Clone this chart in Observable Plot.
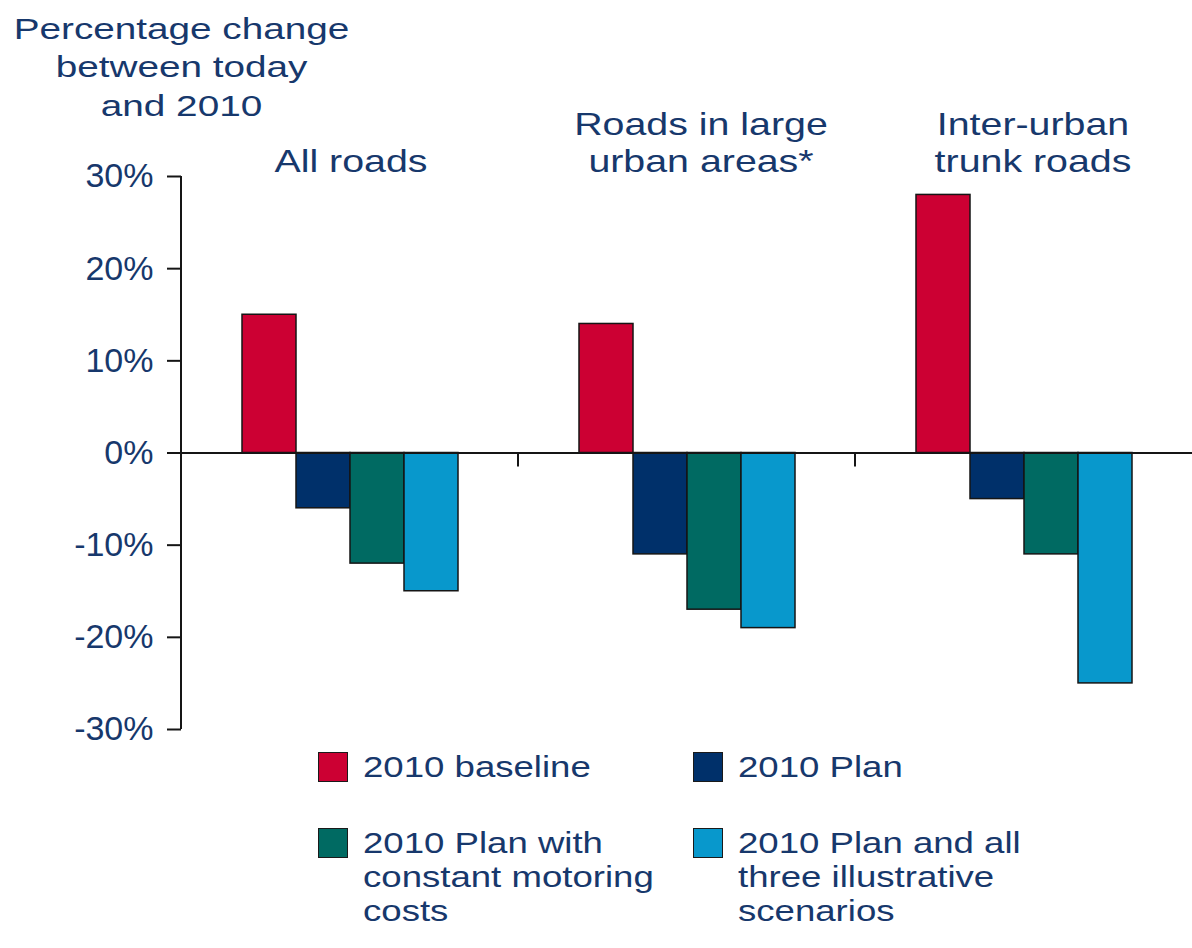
<!DOCTYPE html>
<html>
<head>
<meta charset="utf-8">
<script src="https://cdn.jsdelivr.net/npm/d3@7"></script>
<script src="https://cdn.jsdelivr.net/npm/@observablehq/plot@0.6"></script>
<style>
  html, body { margin: 0; padding: 0; background: #fff; overflow: hidden; }
  #chart { position: relative; width: 1192px; height: 948px; font-family: "Liberation Sans", Arial, sans-serif; color: #17386c; }
  .legend { display: grid; grid-template-columns: 375px 420px; row-gap: 42px; margin-left: 318px; margin-top: 5px; }
  .item { display: flex; align-items: flex-start; }
  .sw { width: 28px; height: 28px; border: 1px solid #1a1a1a; margin-top: 2px; flex: none; }
  .lbl { margin-left: 15px; font-size: 29.5px; line-height: 34px; white-space: pre; display: inline-block; transform: scaleX(1.24); transform-origin: 0 0; }
</style>
</head>
<body>
<div id="chart"></div>
<script>
// ---- data ----
const groups = ["All roads", "Roads in large\nurban areas*", "Inter-urban\ntrunk roads"];
const series = [
  "2010 baseline",
  "2010 Plan",
  "2010 Plan with\nconstant motoring\ncosts",
  "2010 Plan and all\nthree illustrative\nscenarios"
];
const colors = ["#cc0033", "#00306a", "#006a62", "#0898cc"];
const baseline = [15, 14, 28];
const plan = [-6, -11, -5];
const planConstantCosts = [-12, -17, -11];
const planAllScenarios = [-15, -19, -25];
const yTicks = [-30, -20, -10, 0, 10, 20, 30];
const title = "Percentage change\nbetween today\nand 2010";

const seriesValues = [baseline, plan, planConstantCosts, planAllScenarios];
const data = groups.flatMap((g, i) => series.map((s, j) => ({group: g, series: s, value: seriesValues[j][i]})));

const textColor = "#17386c";
const labelShift = [1, 14, 9];

const chart = Plot.plot({
  width: 1192,
  height: 745,
  marginTop: 176,
  marginBottom: 16,
  marginLeft: 180,
  marginRight: 0,
  style: {fontFamily: "'Liberation Sans', Arial, sans-serif", background: "#fff", color: textColor, overflow: "visible"},
  fx: {domain: groups, padding: 0, axis: null},
  x: {domain: series, paddingInner: 0, paddingOuter: 1.07, axis: null},
  y: {domain: [-30, 30], axis: null},
  color: {domain: series, range: colors},
  marks: [
    Plot.barY(data, {fx: "group", x: "series", y: "value", fill: "series", stroke: "#151515", strokeWidth: 1.5}),
    Plot.ruleY([0], {stroke: "#151515", strokeWidth: 2}),
    Plot.axisY({
      ticks: yTicks,
      tickFormat: d => `${d}%`,
      tickSize: 14,
      tickPadding: 14,
      fontSize: 34,
      stroke: "#151515",
      strokeWidth: 2,
      fill: textColor,
      label: null
    }),
    Plot.text([title], {
      fx: () => groups[0],
      text: d => d,
      frameAnchor: "top-left",
      textAnchor: "middle",
      lineAnchor: "bottom",
      fontSize: 30,
      lineHeight: 1.28,
      dy: -61,
      fill: textColor
    }),
    ...groups.map((g, i) => Plot.text([g], {
      fx: d => d,
      text: d => d,
      frameAnchor: "top",
      textAnchor: "middle",
      lineAnchor: "bottom",
      fontSize: 30.5,
      lineHeight: 1.213,
      dy: -5,
      dx: labelShift[i],
      fill: textColor
    }))
  ]
});

const root = document.getElementById("chart");
root.appendChild(chart);

// axis line and group separators from the library's scales
const fx = chart.scale("fx");
const ys = chart.scale("y");
const svg = d3.select(chart);
const gAxis = svg.append("g").attr("stroke", "#151515").attr("stroke-width", 2);
const x0 = fx.apply(groups[0]);
gAxis.append("line")
  .attr("x1", x0).attr("x2", x0)
  .attr("y1", ys.apply(ys.domain[1])).attr("y2", ys.apply(ys.domain[0]));
groups.slice(1).forEach(g => {
  const xb = fx.apply(g);
  gAxis.append("line")
    .attr("x1", xb).attr("x2", xb)
    .attr("y1", ys.apply(0)).attr("y2", ys.apply(0) + 14);
});

// horizontal stretch of the headline texts (the original lettering is wide)
function stretch(sel, k) {
  chart.querySelectorAll(sel).forEach(t => {
    const tr = t.getAttribute("transform") || "";
    const xa = t.getAttribute("x");
    let extra = "";
    if (xa !== null && !isNaN(+xa)) { extra = ` translate(${+xa},0)`; t.removeAttribute("x"); }
    t.setAttribute("transform", `${tr}${extra} scale(${k},1)`);
  });
}
stretch('g[aria-label="text"] text', 1.29);

// legend
const legend = document.createElement("div");
legend.className = "legend";
series.forEach((s, i) => {
  const item = document.createElement("div");
  item.className = "item";
  const sw = document.createElement("span");
  sw.className = "sw";
  sw.style.background = colors[i];
  const lbl = document.createElement("span");
  lbl.className = "lbl";
  lbl.textContent = s;
  item.appendChild(sw);
  item.appendChild(lbl);
  legend.appendChild(item);
});
root.appendChild(legend);
</script>
</body>
</html>
